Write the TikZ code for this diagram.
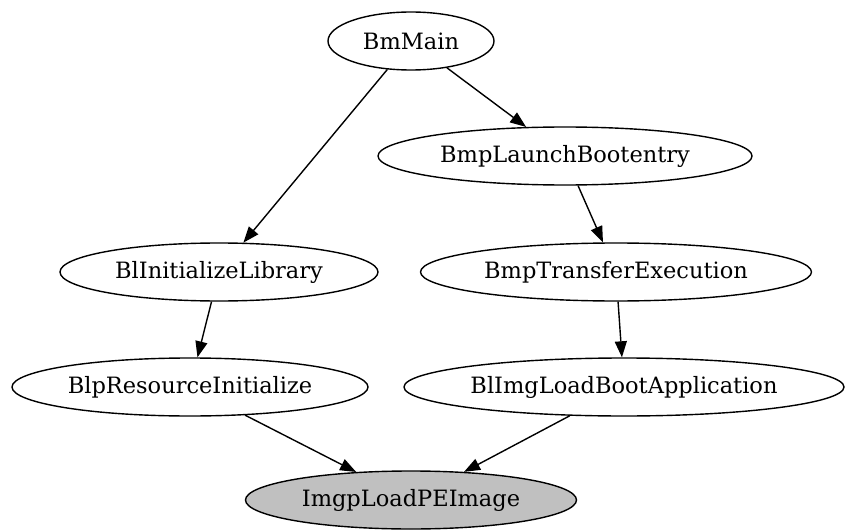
\documentclass[tikz,border=0pt]{standalone}
\usepackage{fontspec}
\setmainfont{DejaVu Serif}
\usetikzlibrary{shapes.geometric,arrows.meta}
\definecolor{nodegray}{HTML}{C0C0C0}
\tikzset{
  fn/.style={ellipse, draw=black, line width=1.4pt, inner sep=0pt,
    minimum height=58pt, font=\fontsize{22.5}{27}\selectfont, text=black},
  call/.style={line width=1.4pt, draw=black,
    -{Triangle[length=16pt,width=12pt]}}
}
\begin{document}
\begin{tikzpicture}[x=1pt,y=-1pt]
\useasboundingbox[fill=white] (0,0) rectangle (846,532);
\node[fn, minimum width=166pt] (main) at (411,41) {BmMain};
\node[fn, minimum width=374pt] (launch) at (565,156) {BmpLaunchBootentry};
\node[fn, minimum width=318pt] (initlib) at (219,272) {BlInitializeLibrary};
\node[fn, minimum width=391pt] (transfer) at (616,272) {BmpTransferExecution};
\node[fn, minimum width=356pt] (resinit) at (190,387) {BlpResourceInitialize};
\node[fn, minimum width=440pt] (loadapp) at (624,387) {BlImgLoadBootApplication};
\node[fn, minimum width=331pt, fill=nodegray] (loadpe) at (411,500) {ImgpLoadPEImage};
\draw[call] (main) -- (initlib);
\draw[call] (main) -- (launch);
\draw[call] (launch) -- (transfer);
\draw[call] (initlib) -- (resinit);
\draw[call] (transfer) -- (loadapp);
\draw[call] (resinit) -- (loadpe);
\draw[call] (loadapp) -- (loadpe);
\end{tikzpicture}
\end{document}
